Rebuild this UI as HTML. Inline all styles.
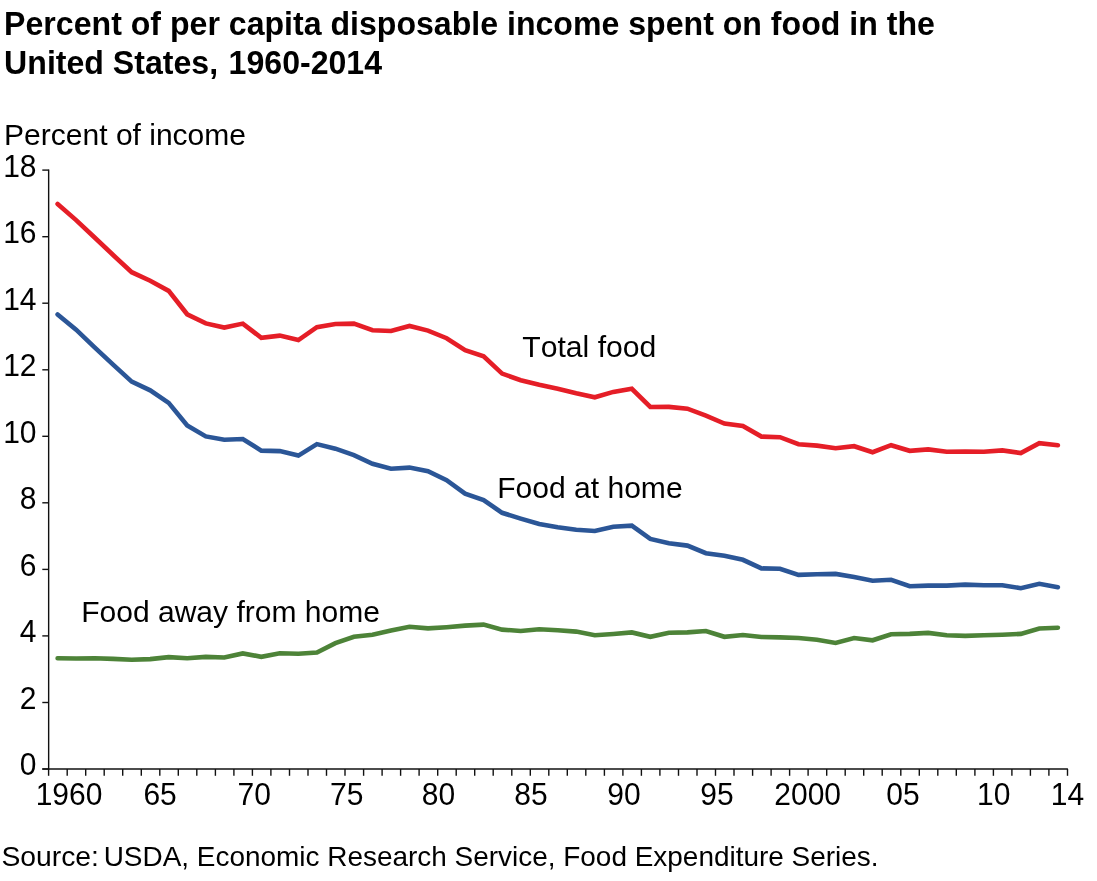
<!DOCTYPE html>
<html><head><meta charset="utf-8"><title>Percent of per capita disposable income spent on food</title>
<style>
html,body{margin:0;padding:0;background:#fff;}
svg{display:block;will-change:transform;font-family:"Liberation Sans",sans-serif;}
text{fill:#000;font-kerning:none;}
.t{font-size:30px;}
.l{font-size:30.3px;}
.b{font-size:32.1px;font-weight:bold;}
.s{font-size:27.93px;}
.ax line{stroke:#111;stroke-width:1.4;}
.ln{fill:none;stroke-width:4.6;stroke-linecap:round;stroke-linejoin:miter;stroke-miterlimit:10;}
</style></head><body>
<svg width="1097" height="881" viewBox="0 0 1097 881">
<rect width="1097" height="881" fill="#fff"/>
<text class="b" transform="translate(0,35.0) scale(1,1.035)" x="4.1" y="0">Percent of per capita disposable income spent on food in the</text>
<text class="b" transform="translate(0,73.5) scale(1,1.035)" x="4.1" y="0">United States, <tspan x="228.6">1960-2014</tspan></text>
<text class="t" x="4.1" y="145.1" style="font-size:30.02px">Percent of income</text>
<g class="ax">
<line x1="48.65" x2="48.65" y1="169.4" y2="769.7"/>
<line x1="42.3" x2="1067.9" y1="769.0" y2="769.0"/>
<line x1="42.3" x2="48.65" y1="769.0" y2="769.0"/><line x1="42.3" x2="48.65" y1="702.5" y2="702.5"/><line x1="42.3" x2="48.65" y1="635.9" y2="635.9"/><line x1="42.3" x2="48.65" y1="569.4" y2="569.4"/><line x1="42.3" x2="48.65" y1="502.8" y2="502.8"/><line x1="42.3" x2="48.65" y1="436.3" y2="436.3"/><line x1="42.3" x2="48.65" y1="369.8" y2="369.8"/><line x1="42.3" x2="48.65" y1="303.2" y2="303.2"/><line x1="42.3" x2="48.65" y1="236.7" y2="236.7"/><line x1="42.3" x2="48.65" y1="170.1" y2="170.1"/>
<line x1="48.6" x2="48.6" y1="769.0" y2="775.8"/><line x1="67.2" x2="67.2" y1="769.0" y2="775.8"/><line x1="85.7" x2="85.7" y1="769.0" y2="775.8"/><line x1="104.2" x2="104.2" y1="769.0" y2="775.8"/><line x1="122.7" x2="122.7" y1="769.0" y2="775.8"/><line x1="141.3" x2="141.3" y1="769.0" y2="775.8"/><line x1="159.8" x2="159.8" y1="769.0" y2="775.8"/><line x1="178.3" x2="178.3" y1="769.0" y2="775.8"/><line x1="196.8" x2="196.8" y1="769.0" y2="775.8"/><line x1="215.4" x2="215.4" y1="769.0" y2="775.8"/><line x1="233.9" x2="233.9" y1="769.0" y2="775.8"/><line x1="252.4" x2="252.4" y1="769.0" y2="775.8"/><line x1="270.9" x2="270.9" y1="769.0" y2="775.8"/><line x1="289.5" x2="289.5" y1="769.0" y2="775.8"/><line x1="308.0" x2="308.0" y1="769.0" y2="775.8"/><line x1="326.5" x2="326.5" y1="769.0" y2="775.8"/><line x1="345.0" x2="345.0" y1="769.0" y2="775.8"/><line x1="363.6" x2="363.6" y1="769.0" y2="775.8"/><line x1="382.1" x2="382.1" y1="769.0" y2="775.8"/><line x1="400.6" x2="400.6" y1="769.0" y2="775.8"/><line x1="419.1" x2="419.1" y1="769.0" y2="775.8"/><line x1="437.7" x2="437.7" y1="769.0" y2="775.8"/><line x1="456.2" x2="456.2" y1="769.0" y2="775.8"/><line x1="474.7" x2="474.7" y1="769.0" y2="775.8"/><line x1="493.2" x2="493.2" y1="769.0" y2="775.8"/><line x1="511.8" x2="511.8" y1="769.0" y2="775.8"/><line x1="530.3" x2="530.3" y1="769.0" y2="775.8"/><line x1="548.8" x2="548.8" y1="769.0" y2="775.8"/><line x1="567.3" x2="567.3" y1="769.0" y2="775.8"/><line x1="585.8" x2="585.8" y1="769.0" y2="775.8"/><line x1="604.4" x2="604.4" y1="769.0" y2="775.8"/><line x1="622.9" x2="622.9" y1="769.0" y2="775.8"/><line x1="641.4" x2="641.4" y1="769.0" y2="775.8"/><line x1="659.9" x2="659.9" y1="769.0" y2="775.8"/><line x1="678.5" x2="678.5" y1="769.0" y2="775.8"/><line x1="697.0" x2="697.0" y1="769.0" y2="775.8"/><line x1="715.5" x2="715.5" y1="769.0" y2="775.8"/><line x1="734.0" x2="734.0" y1="769.0" y2="775.8"/><line x1="752.6" x2="752.6" y1="769.0" y2="775.8"/><line x1="771.1" x2="771.1" y1="769.0" y2="775.8"/><line x1="789.6" x2="789.6" y1="769.0" y2="775.8"/><line x1="808.1" x2="808.1" y1="769.0" y2="775.8"/><line x1="826.7" x2="826.7" y1="769.0" y2="775.8"/><line x1="845.2" x2="845.2" y1="769.0" y2="775.8"/><line x1="863.7" x2="863.7" y1="769.0" y2="775.8"/><line x1="882.2" x2="882.2" y1="769.0" y2="775.8"/><line x1="900.8" x2="900.8" y1="769.0" y2="775.8"/><line x1="919.3" x2="919.3" y1="769.0" y2="775.8"/><line x1="937.8" x2="937.8" y1="769.0" y2="775.8"/><line x1="956.3" x2="956.3" y1="769.0" y2="775.8"/><line x1="974.9" x2="974.9" y1="769.0" y2="775.8"/><line x1="993.4" x2="993.4" y1="769.0" y2="775.8"/><line x1="1011.9" x2="1011.9" y1="769.0" y2="775.8"/><line x1="1030.4" x2="1030.4" y1="769.0" y2="775.8"/><line x1="1048.9" x2="1048.9" y1="769.0" y2="775.8"/><line x1="1067.5" x2="1067.5" y1="769.0" y2="775.8"/>
</g>
<g class="t"><text transform="translate(0,775.4) scale(1,1.04)" x="36.5" y="0" text-anchor="end">0</text><text transform="translate(0,708.9) scale(1,1.04)" x="36.5" y="0" text-anchor="end">2</text><text transform="translate(0,642.3) scale(1,1.04)" x="36.5" y="0" text-anchor="end">4</text><text transform="translate(0,575.8) scale(1,1.04)" x="36.5" y="0" text-anchor="end">6</text><text transform="translate(0,509.2) scale(1,1.04)" x="36.5" y="0" text-anchor="end">8</text><text transform="translate(0,442.7) scale(1,1.04)" x="36.5" y="0" text-anchor="end">10</text><text transform="translate(0,376.2) scale(1,1.04)" x="36.5" y="0" text-anchor="end">12</text><text transform="translate(0,309.6) scale(1,1.04)" x="36.5" y="0" text-anchor="end">14</text><text transform="translate(0,243.1) scale(1,1.04)" x="36.5" y="0" text-anchor="end">16</text><text transform="translate(0,176.5) scale(1,1.04)" x="36.5" y="0" text-anchor="end">18</text></g>
<g class="t"><text transform="translate(0,804.6) scale(1,1.04)" x="69.0" y="0" text-anchor="middle">1960</text><text transform="translate(0,804.6) scale(1,1.04)" x="160.1" y="0" text-anchor="middle">65</text><text transform="translate(0,804.6) scale(1,1.04)" x="254.3" y="0" text-anchor="middle">70</text><text transform="translate(0,804.6) scale(1,1.04)" x="346.7" y="0" text-anchor="middle">75</text><text transform="translate(0,804.6) scale(1,1.04)" x="438.4" y="0" text-anchor="middle">80</text><text transform="translate(0,804.6) scale(1,1.04)" x="531.0" y="0" text-anchor="middle">85</text><text transform="translate(0,804.6) scale(1,1.04)" x="624.0" y="0" text-anchor="middle">90</text><text transform="translate(0,804.6) scale(1,1.04)" x="716.9" y="0" text-anchor="middle">95</text><text transform="translate(0,804.6) scale(1,1.04)" x="807.7" y="0" text-anchor="middle">2000</text><text transform="translate(0,804.6) scale(1,1.04)" x="902.9" y="0" text-anchor="middle">05</text><text transform="translate(0,804.6) scale(1,1.04)" x="993.8" y="0" text-anchor="middle">10</text><text transform="translate(0,804.6) scale(1,1.04)" x="1067.5" y="0" text-anchor="middle">14</text></g>
<polyline class="ln" stroke="#E51E27" points="57.6,204.0 76.1,220.1 94.6,237.5 113.1,255.0 131.7,272.2 150.2,280.7 168.7,290.9 187.2,314.3 205.8,323.4 224.3,327.6 242.8,323.6 261.3,337.8 279.8,335.6 298.4,340.1 316.9,327.2 335.4,324.0 353.9,323.6 372.5,330.2 391.0,331.0 409.5,326.0 428.0,330.6 446.6,338.2 465.1,350.1 483.6,356.2 502.1,373.6 520.7,380.2 539.2,384.8 557.7,388.8 576.2,393.3 594.8,397.3 613.3,391.9 631.8,388.8 650.3,407.0 668.9,406.9 687.4,408.7 705.9,415.7 724.4,423.5 742.9,426.0 761.5,436.6 780.0,437.2 798.5,444.2 817.0,445.6 835.6,448.2 854.1,446.2 872.6,452.2 891.1,445.2 909.7,450.8 928.2,449.4 946.7,451.8 965.2,451.6 983.8,451.8 1002.3,450.4 1020.8,453.0 1039.3,443.2 1057.9,445.2"/>
<polyline class="ln" stroke="#2B5697" points="57.6,314.4 76.1,329.7 94.6,347.3 113.1,364.6 131.7,381.6 150.2,390.3 168.7,402.9 187.2,425.4 205.8,436.4 224.3,439.8 242.8,439.0 261.3,450.6 279.8,451.1 298.4,455.6 316.9,444.1 335.4,448.7 353.9,455.2 372.5,463.8 391.0,468.8 409.5,467.6 428.0,471.2 446.6,480.2 465.1,493.7 483.6,500.1 502.1,512.8 520.7,518.6 539.2,524.0 557.7,527.2 576.2,529.8 594.8,531.0 613.3,526.8 631.8,525.6 650.3,538.9 668.9,543.2 687.4,545.6 705.9,553.2 724.4,555.8 742.9,559.8 761.5,568.4 780.0,568.8 798.5,574.9 817.0,574.3 835.6,573.9 854.1,577.0 872.6,580.8 891.1,579.8 909.7,586.2 928.2,585.6 946.7,585.6 965.2,584.6 983.8,585.2 1002.3,585.2 1020.8,588.2 1039.3,583.8 1057.9,587.2"/>
<polyline class="ln" stroke="#4D8338" points="57.6,658.3 76.1,658.5 94.6,658.3 113.1,658.9 131.7,659.7 150.2,659.1 168.7,657.1 187.2,658.3 205.8,656.9 224.3,657.5 242.8,653.4 261.3,656.8 279.8,653.3 298.4,653.7 316.9,652.5 335.4,643.2 353.9,636.8 372.5,634.8 391.0,630.6 409.5,626.8 428.0,628.4 446.6,627.2 465.1,625.6 483.6,624.6 502.1,629.6 520.7,631.0 539.2,629.2 557.7,630.2 576.2,631.6 594.8,635.2 613.3,634.0 631.8,632.4 650.3,636.8 668.9,632.8 687.4,632.4 705.9,631.0 724.4,636.8 742.9,635.0 761.5,637.0 780.0,637.4 798.5,638.0 817.0,639.8 835.6,642.9 854.1,638.0 872.6,640.3 891.1,634.3 909.7,633.9 928.2,632.9 946.7,635.3 965.2,635.9 983.8,635.3 1002.3,634.7 1020.8,633.9 1039.3,628.5 1057.9,627.7"/>
<text class="t" x="522.3" y="357.3" style="font-size:30.15px">Total food</text>
<text class="t" x="497.2" y="497.5" style="font-size:30.05px">Food at home</text>
<text class="t" x="81.2" y="622.2" style="font-size:30.04px">Food away from home</text>
<text class="s" x="1.4" y="865.7" style="font-size:28.3px">Source: <tspan x="103.7" style="font-size:27.95px">USDA, Economic Research Service, Food Expenditure Series.</tspan></text>
</svg>
</body></html>
